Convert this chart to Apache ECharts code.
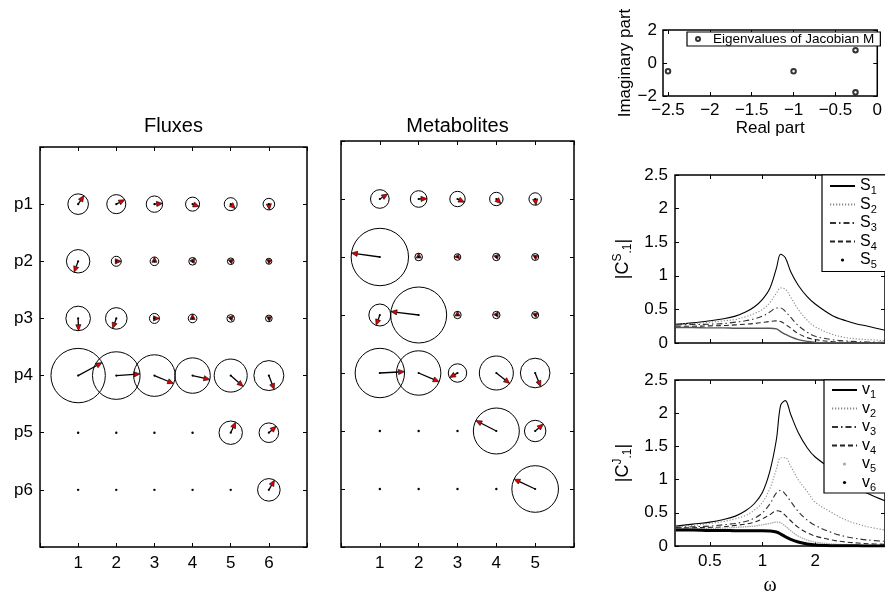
<!DOCTYPE html>
<html><head><meta charset="utf-8">
<script src="https://cdn.jsdelivr.net/npm/echarts@6/dist/echarts.min.js"></script>
<style>html,body{margin:0;padding:0;background:#fff}#c{width:885px;height:597px}</style>
</head><body><div id="c"></div>
<script>
// ---------- data ----------
const rowLabels = ['p1','p2','p3','p4','p5','p6'];
const fluxCols = [1,2,3,4,5,6];
const metabCols = [1,2,3,4,5];
// magnitude (x-axis units) and phase (degrees) of each response
const fluxMag = [
  [0.27, 0.25, 0.215, 0.184, 0.17, 0.152],
  [0.307, 0.131, 0.113, 0.10, 0.087, 0.079],
  [0.322, 0.283, 0.131, 0.113, 0.10, 0.087],
  [0.713, 0.624, 0.545, 0.464, 0.433, 0.393],
  [0, 0, 0, 0, 0.307, 0.257],
  [0, 0, 0, 0, 0, 0.296]
];
const fluxPhase = [
  [56, 28, 5, -20, -45, -85],
  [-110, 0, 90, 60, 40, 20],
  [-88, -110, 0, 90, 45, 30],
  [28.5, 4, -22.6, -13, -41, -69],
  [0, 0, 0, 0, 65, 41],
  [0, 0, 0, 0, 0, 60]
];
const metabMag = [
  [0.24, 0.214, 0.198, 0.173, 0.16],
  [0.739, 0.098, 0.085, 0.095, 0.09],
  [0.283, 0.721, 0.095, 0.095, 0.09],
  [0.636, 0.572, 0.237, 0.438, 0.381],
  [0, 0, 0, 0.592, 0.276],
  [0, 0, 0, 0, 0.6]
];
const metabPhase = [
  [32, 2, -25, -45, -82],
  [172, 90, 70, 50, 30],
  [-110, 173, 90, 60, 40],
  [3, -23, -150, -38, -68],
  [0, 0, 0, 153, 40],
  [0, 0, 0, 0, 155]
];
const eigReal = [-2.5, -1, -0.26, -0.26];
const eigImag = [-0.5, -0.5, 0.78, -1.78];
const eigXTicks = [-2.5, -2, -1.5, -1, -0.5, 0];
const omegaTicks = [0.5, 1, 2];
const omega = [0.32, 0.4, 0.5, 0.6, 0.7, 0.8, 0.9, 1.0, 1.1, 1.2, 1.27, 1.35, 1.45, 1.6, 1.8, 2.0, 2.5, 3.0, 3.5, 4.0, 5.0];
const S1 = [0.28, 0.30, 0.33, 0.36, 0.40, 0.46, 0.54, 0.65, 0.81, 1.11, 1.32, 1.27, 1.06, 0.86, 0.69, 0.58, 0.41, 0.33, 0.28, 0.25, 0.19];
const S2 = [0.28, 0.29, 0.31, 0.33, 0.35, 0.39, 0.44, 0.50, 0.60, 0.74, 0.82, 0.80, 0.68, 0.50, 0.34, 0.24, 0.13, 0.08, 0.06, 0.05, 0.035];
const S3 = [0.27, 0.275, 0.28, 0.29, 0.31, 0.33, 0.36, 0.40, 0.46, 0.52, 0.52, 0.47, 0.38, 0.26, 0.16, 0.10, 0.05, 0.03, 0.02, 0.015, 0.01];
const S4 = [0.25, 0.25, 0.255, 0.26, 0.27, 0.28, 0.29, 0.305, 0.32, 0.33, 0.32, 0.28, 0.22, 0.14, 0.08, 0.05, 0.02, 0.01, 0.008, 0.006, 0.004];
const S5 = [0.23, 0.23, 0.225, 0.225, 0.22, 0.22, 0.22, 0.22, 0.22, 0.21, 0.17, 0.13, 0.09, 0.05, 0.025, 0.01, 0.004, 0.002, 0.001, 0.001, 0.001];
const V1 = [0.30, 0.33, 0.36, 0.40, 0.45, 0.53, 0.64, 0.81, 1.12, 1.60, 2.12, 2.19, 1.98, 1.71, 1.48, 1.34, 1.15, 0.98, 0.87, 0.79, 0.68];
const V2 = [0.29, 0.31, 0.34, 0.37, 0.41, 0.46, 0.54, 0.66, 0.86, 1.15, 1.33, 1.33, 1.20, 1.00, 0.82, 0.66, 0.50, 0.39, 0.33, 0.29, 0.24];
const V3 = [0.28, 0.29, 0.30, 0.32, 0.34, 0.37, 0.42, 0.50, 0.63, 0.80, 0.84, 0.78, 0.67, 0.52, 0.39, 0.31, 0.20, 0.14, 0.11, 0.09, 0.07];
const V4 = [0.27, 0.275, 0.28, 0.29, 0.31, 0.33, 0.36, 0.41, 0.47, 0.53, 0.52, 0.46, 0.38, 0.28, 0.20, 0.15, 0.09, 0.06, 0.045, 0.035, 0.025];
const V5 = [0.26, 0.26, 0.265, 0.27, 0.28, 0.29, 0.30, 0.32, 0.34, 0.36, 0.35, 0.30, 0.23, 0.15, 0.09, 0.06, 0.03, 0.02, 0.015, 0.01, 0.008];
const V6 = [0.24, 0.24, 0.235, 0.235, 0.23, 0.23, 0.23, 0.23, 0.225, 0.21, 0.18, 0.14, 0.10, 0.06, 0.03, 0.015, 0.005, 0.003, 0.002, 0.001, 0.001];

// ---------- helpers ----------
const FONT = '"Liberation Sans", Arial, Helvetica, sans-serif';
const minus = v => String(v).replace('-', '\u2212');
const lg = w => Math.log10(w);
const logTicks = omegaTicks.map(lg);
const tick = (extra) => Object.assign({inside: true, length: 4, lineStyle: {color: '#000', width: 1}}, extra || {});
const noLine = {show: false, onZero: false};
const noSplit = {show: false};

function cellData(cols, mag, phase) {
  const out = [];
  mag.forEach((row, r) => row.forEach((m, c) => out.push([cols[c], r + 1, m, phase[r][c]])));
  return out;
}
function arrowItem(params, api) {
  const p = api.coord([api.value(0), api.value(1)]);
  const mag = api.value(2);
  const ph = api.value(3) * Math.PI / 180;
  if (!mag) {
    return {type: 'circle', shape: {cx: p[0], cy: p[1], r: 1.2}, style: {fill: '#000'}};
  }
  const R = api.size([mag, 0])[0];
  const ux = Math.cos(ph), uy = -Math.sin(ph);
  const tx = p[0] + R * ux, ty = p[1] + R * uy;
  const h = Math.min(6, R + 1), w = Math.min(2.6, R * 0.6 + 0.6);
  const bx = tx - h * ux, by = ty - h * uy;
  const kids = [
    {type: 'circle', shape: {cx: p[0], cy: p[1], r: R}, style: {fill: 'none', stroke: '#000', lineWidth: 1}}
  ];
  if (R > h) kids.push({type: 'line', shape: {x1: p[0], y1: p[1], x2: bx, y2: by}, style: {stroke: '#000', lineWidth: 1.3}});
  kids.push({type: 'polygon', shape: {points: [[tx, ty], [bx - w * uy, by + w * ux], [bx + w * uy, by - w * ux]]},
    style: {fill: '#e00000', stroke: '#000', lineWidth: 0.6}});
  kids.push({type: 'circle', shape: {cx: p[0], cy: p[1], r: 1.1}, style: {fill: '#000'}});
  return {type: 'group', children: kids};
}
const curve = (arr) => omega.map((w, i) => [lg(w), arr[i]]);
function lineSeries(name, arr, xi, style, extra) {
  return Object.assign({
    type: 'line', name: name, xAxisIndex: xi, yAxisIndex: xi, data: curve(arr),
    symbol: 'none', smooth: 0.35, lineStyle: style, color: style.color, z: 2
  }, extra || {});
}
const legendFmt = name => '{m|' + name[0] + '}{s|' + name.slice(1) + '}';
const legendRich = {
  m: {fontSize: 16, lineHeight: 21, fontFamily: FONT, color: '#000'},
  s: {fontSize: 11, lineHeight: 11, verticalAlign: 'bottom', fontFamily: FONT, color: '#000'}
};
const lab = (extra) => Object.assign({color: '#000', fontSize: 17, fontFamily: FONT}, extra || {});
const nameStyle = (extra) => Object.assign({color: '#000', fontSize: 17, fontFamily: FONT}, extra || {});
const jRich = {
  sup: {fontSize: 12, lineHeight: 12, verticalAlign: 'top', fontFamily: FONT, color: '#000'},
  sub: {fontSize: 12, lineHeight: 12, verticalAlign: 'bottom', fontFamily: FONT, color: '#000'}
};

const gridBorder = {show: true, borderColor: '#000', borderWidth: 1.5, backgroundColor: 'transparent'};

function pair(grid, base, top) {
  // returns bottom/left axis and its mirrored top/right twin (ticks only)
  const a = Object.assign({type: 'value', gridIndex: grid, axisLine: noLine, splitLine: noSplit}, base);
  const b = Object.assign({}, a, {axisLabel: {show: false}, name: '', position: top});
  delete b.nameLocation; delete b.nameGap; delete b.nameTextStyle; delete b.nameRotate;
  return [a, b];
}

const xAxes = [].concat(
  pair(0, {min: 0, max: 7, interval: 1, position: 'bottom', axisTick: tick(),
    axisLabel: lab({margin: 8, formatter: v => (v >= 1 && v <= fluxCols.length) ? String(v) : ''})}, 'top'),
  pair(1, {min: 0, max: 6, interval: 1, position: 'bottom', axisTick: tick(),
    axisLabel: lab({margin: 8, formatter: v => (v >= 1 && v <= metabCols.length) ? String(v) : ''})}, 'top'),
  pair(2, {min: -2.56, max: 0, position: 'bottom', axisTick: tick({customValues: eigXTicks}),
    axisLabel: lab({customValues: eigXTicks, margin: 6, formatter: minus}),
    name: 'Real part', nameLocation: 'middle', nameGap: 24, nameTextStyle: nameStyle()}, 'top'),
  pair(3, {min: -0.5, max: 0.7, position: 'bottom', axisTick: tick({customValues: logTicks}), axisLabel: {show: false}}, 'top'),
  pair(4, {min: -0.5, max: 0.7, position: 'bottom', axisTick: tick({customValues: logTicks}),
    axisLabel: lab({customValues: logTicks, margin: 7, formatter: v => String(Math.round(Math.pow(10, v) * 100) / 100)}),
    name: '\u03c9', nameLocation: 'middle', nameGap: 30,
    nameTextStyle: {color: '#000', fontSize: 20, padding: [0, 20, 0, 0], fontFamily: '"Liberation Serif", "DejaVu Serif", serif'}}, 'top')
);
// titles on the top twin axes of the two left panels
xAxes[1].name = 'Fluxes'; xAxes[1].nameLocation = 'middle'; xAxes[1].nameGap = 11; xAxes[1].nameTextStyle = nameStyle({fontSize: 20});
xAxes[3].name = 'Metabolites'; xAxes[3].nameLocation = 'middle'; xAxes[3].nameGap = 5; xAxes[3].nameTextStyle = nameStyle({fontSize: 20});

const yAxes = [].concat(
  pair(0, {min: 0, max: 7, interval: 1, inverse: true, position: 'left', axisTick: tick(),
    axisLabel: lab({margin: 7, formatter: v => rowLabels[v - 1] || ''})}, 'right'),
  pair(1, {min: 0, max: 7, interval: 1, inverse: true, position: 'left', axisTick: tick(), axisLabel: {show: false}}, 'right'),
  pair(2, {min: -2, max: 2, interval: 2, position: 'left', axisTick: tick(),
    axisLabel: lab({margin: 6, formatter: minus}),
    name: 'Imaginary part', nameLocation: 'middle', nameRotate: 90, nameGap: 29, nameTextStyle: nameStyle()}, 'right'),
  pair(3, {min: 0, max: 2.5, interval: 0.5, position: 'left', axisTick: tick(), axisLabel: lab({margin: 7}),
    name: '|C{sup|S}{sub|.1}|', nameLocation: 'middle', nameRotate: 90, nameGap: 41,
    nameTextStyle: nameStyle({fontSize: 18, lineHeight: 22, rich: jRich})}, 'right'),
  pair(4, {min: 0, max: 2.5, interval: 0.5, position: 'left', axisTick: tick(), axisLabel: lab({margin: 7}),
    name: '|C{sup|J}{sub|.1}|', nameLocation: 'middle', nameRotate: 90, nameGap: 41,
    nameTextStyle: nameStyle({fontSize: 18, lineHeight: 22, rich: jRich})}, 'right')
);

const option = {
  animation: false,
  backgroundColor: '#fff',
  grid: [
    Object.assign({left: 40, top: 147, width: 267, height: 400}, gridBorder),
    Object.assign({left: 341, top: 141, width: 233, height: 406}, gridBorder),
    Object.assign({left: 663, top: 30, width: 221, height: 66}, gridBorder),
    Object.assign({left: 675, top: 175, width: 212, height: 168}, gridBorder),
    Object.assign({left: 675, top: 380, width: 212, height: 168}, gridBorder)
  ],
  xAxis: xAxes,
  yAxis: yAxes,
  legend: [
    {show: true, selectedMode: false, left: 687, top: 32, orient: 'horizontal',
      data: ['Eigenvalues of Jacobian M'], itemWidth: 20, itemHeight: 4,
      borderColor: '#000', borderWidth: 1.2, backgroundColor: '#fff', padding: [0, 6, 0, 8],
      textStyle: {color: '#000', fontSize: 13.5, lineHeight: 12, fontFamily: FONT}},
    {show: true, selectedMode: false, left: 822, top: 175, orient: 'vertical', itemGap: 0,
      itemWidth: 25, itemHeight: 4, borderColor: '#000', borderWidth: 1.2, backgroundColor: '#fff', padding: [3, 40, 1, 7],
      formatter: legendFmt, textStyle: {rich: legendRich, fontSize: 16, fontFamily: FONT, color: '#000'},
      data: [
        {name: 'S1', itemStyle: {opacity: 0}},
        {name: 'S2', itemStyle: {opacity: 0}},
        {name: 'S3', itemStyle: {opacity: 0}},
        {name: 'S4', itemStyle: {opacity: 0}},
        {name: 'S5', lineStyle: {opacity: 0, width: 0}, itemStyle: {color: '#000', opacity: 1}}
      ]},
    {show: true, selectedMode: false, left: 824, top: 380, orient: 'vertical', itemGap: 0,
      itemWidth: 25, itemHeight: 4, borderColor: '#000', borderWidth: 1.2, backgroundColor: '#fff', padding: [2, 40, 0, 7],
      formatter: legendFmt, textStyle: {rich: legendRich, fontSize: 16, fontFamily: FONT, color: '#000'},
      data: [
        {name: 'v1', itemStyle: {opacity: 0}},
        {name: 'v2', itemStyle: {opacity: 0}},
        {name: 'v3', itemStyle: {opacity: 0}},
        {name: 'v4', itemStyle: {opacity: 0}},
        {name: 'v5', lineStyle: {opacity: 0, width: 0}, itemStyle: {color: '#aaa', opacity: 1}},
        {name: 'v6', lineStyle: {opacity: 0, width: 0}, itemStyle: {color: '#000', opacity: 1}}
      ]}
  ],
  series: [
    {type: 'custom', name: 'Fluxes', xAxisIndex: 0, yAxisIndex: 0, renderItem: arrowItem,
      data: cellData(fluxCols, fluxMag, fluxPhase), encode: {x: 0, y: 1}, clip: false, z: 3},
    {type: 'custom', name: 'Metabolites', xAxisIndex: 2, yAxisIndex: 2, renderItem: arrowItem,
      data: cellData(metabCols, metabMag, metabPhase), encode: {x: 0, y: 1}, clip: false, z: 3},
    {type: 'scatter', name: 'Eigenvalues of Jacobian M', xAxisIndex: 4, yAxisIndex: 4,
      data: eigReal.map((r, i) => [r, eigImag[i]]), symbol: 'emptyCircle', symbolSize: 4.5,
      itemStyle: {color: '#000', borderWidth: 1}},
    lineSeries('S1', S1, 6, {color: '#000', width: 1.1, type: 'solid'}),
    lineSeries('S2', S2, 6, {color: '#888', width: 1.1, type: [1.2, 1.8]}),
    lineSeries('S3', S3, 6, {color: '#333', width: 1.1, type: [6, 3, 1.5, 3]}),
    lineSeries('S4', S4, 6, {color: '#222', width: 1.1, type: [5, 3]}),
    lineSeries('S5', S5, 6, {color: '#555', width: 1.4, type: 'solid'}, {symbol: 'circle', symbolSize: 2, showSymbol: false}),
    lineSeries('v1', V1, 8, {color: '#000', width: 1.1, type: 'solid'}),
    lineSeries('v2', V2, 8, {color: '#888', width: 1.1, type: [1.2, 1.8]}),
    lineSeries('v3', V3, 8, {color: '#333', width: 1.1, type: [6, 3, 1.5, 3]}),
    lineSeries('v4', V4, 8, {color: '#222', width: 1.1, type: [5, 3]}),
    lineSeries('v5', V5, 8, {color: '#aaa', width: 1.3, type: [1.5, 0.8]}, {symbol: 'circle', symbolSize: 2, showSymbol: false}),
    lineSeries('v6', V6, 8, {color: '#000', width: 3, type: 'solid'}, {symbol: 'circle', symbolSize: 4, showSymbol: false})
  ]
};
const chart = echarts.init(document.getElementById('c'), null, {renderer: 'canvas'});
chart.setOption(option);
</script>
</body></html>
